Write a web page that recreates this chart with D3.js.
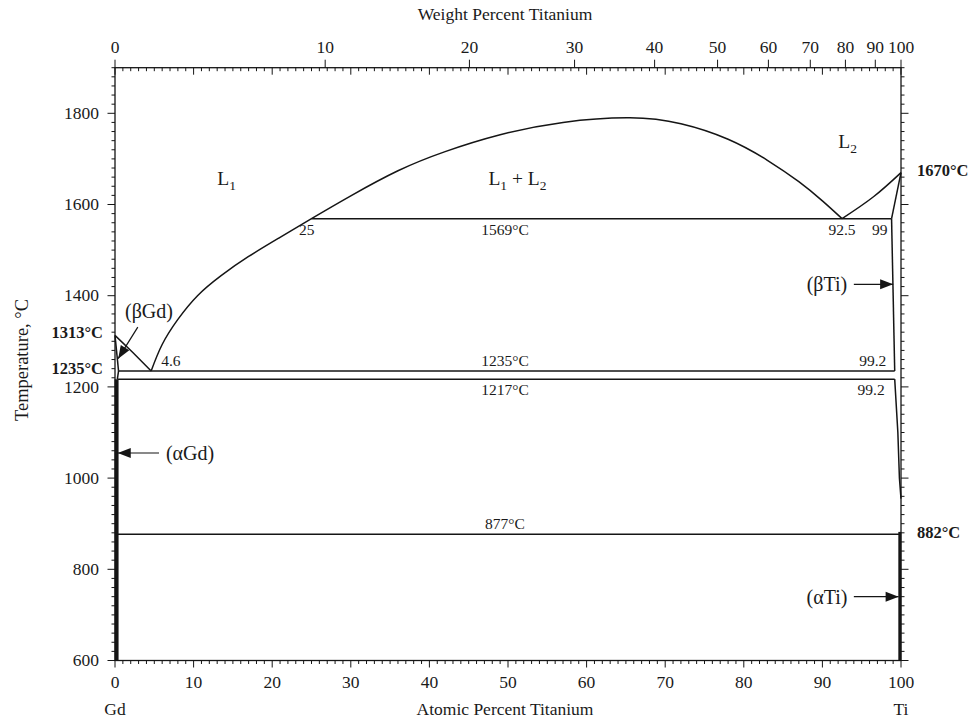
<!DOCTYPE html>
<html><head><meta charset="utf-8">
<script src="https://cdn.jsdelivr.net/npm/d3@7"></script>
<style>
body{margin:0;background:#fff}
text{font-family:"Liberation Serif","Times New Roman",serif;fill:#1a1a1a}
</style>
</head><body>
<svg id="c" width="974" height="721"></svg>
<script>
// ---------- data ----------
const atTicks = [0,10,20,30,40,50,60,70,80,90,100];
const wtTicks = [0,10,20,30,40,50,60,70,80,90,100];
const tempTicks = [600,800,1000,1200,1400,1600,1800];
const massTi = 47.867, massGd = 157.25;

// liquidus on Gd side
const liqGd = [[0,1313],[2.3,1275],[4.6,1235]];
// L1 liquidus from eutectic to monotectic
const liqL1 = [[4.6,1235],[6,1293],[8,1348],[10.5,1400],[13.5,1444],[17,1486],[21,1528],[25,1569]];
// miscibility gap dome
const dome = [[25,1569],[30,1619],[36,1674],[42,1716],[49,1753],[57,1780],[65.5,1790],[72,1777],[78,1743],[83,1697],[87,1650],[90,1608],[92.5,1569]];
// L2 liquidus
const liqL2 = [[92.5,1569],[96.5,1617],[100,1670]];
// (betaTi) solidus and solvus
const solTi = [[98.8,1569],[100,1670]];
const solvTiHigh = [[98.8,1569],[99.2,1235]];
const solvTiLow = [[99.2,1217],[99.6,1100],[99.8,1000],[100,955]];
// (betaGd)
const solGd = [[0,1313],[0.45,1235]];
const solvGd = [[0.45,1235],[0.3,1217]];
// invariant lines
const invariants = [
  {t:1569, x0:25,   x1:98.8, label:"1569°C", pos:"below"},
  {t:1235, x0:0.45, x1:99.2, label:"1235°C", pos:"above"},
  {t:1217, x0:0.3,  x1:99.2, label:"1217°C", pos:"below"},
  {t:877,  x0:0,    x1:100,  label:"877°C",  pos:"above"}
];
// composition labels
const compLabels = [
  {x:24.4, t:1569, s:"25", pos:"below"},
  {x:4.6,  t:1235, s:"4.6", pos:"aboveR"},
  {x:92.5, t:1569, s:"92.5", pos:"below"},
  {x:97.3, t:1569, s:"99", pos:"below"},
  {x:96.4, t:1235, s:"99.2", pos:"above"},
  {x:96.2, t:1217, s:"99.2", pos:"below"}
];

// ---------- layout ----------
const svg = d3.select("#c");
const x = d3.scaleLinear().domain([0,100]).range([115,901]);
const y = d3.scaleLinear().domain([600,1900]).range([660.5,67.7]);
const wtToAt = w => w===0?0:(w===100?100:100*(w/massTi)/((w/massTi)+((100-w)/massGd)));
const line = d3.line().x(d=>x(d[0])).y(d=>y(d[1]));
const smooth = d3.line().x(d=>x(d[0])).y(d=>y(d[1])).curve(d3.curveNatural);
const INK = "#151515";
const FS = 17.5;

const g = svg.append("g");

// frame
g.append("rect").attr("x",x(0)).attr("y",y(1900)).attr("width",x(100)-x(0)).attr("height",y(600)-y(1900))
 .attr("fill","none").attr("stroke",INK).attr("stroke-width",1.3);

// bottom axis (atomic %)
const minorAt = d3.range(0,101,1);
g.selectAll(".bt").data(minorAt).join("line")
 .attr("x1",d=>x(d)).attr("x2",d=>x(d)).attr("y1",y(600)).attr("y2",d=>y(600)+(d%10===0?7:3.5))
 .attr("stroke",INK).attr("stroke-width",1);
g.selectAll(".bl").data(atTicks).join("text")
 .attr("x",d=>x(d)).attr("y",688).attr("text-anchor","middle").attr("font-size",FS).text(d=>d);

// top axis: atomic % ticks inward, weight % ticks outward
g.selectAll(".tt").data(minorAt).join("line")
 .attr("x1",d=>x(d)).attr("x2",d=>x(d)).attr("y1",y(1900)).attr("y2",d=>y(1900)+(d%10===0?7:3.5))
 .attr("stroke",INK).attr("stroke-width",1);
g.selectAll(".tw").data(wtTicks).join("line")
 .attr("x1",d=>x(wtToAt(d))).attr("x2",d=>x(wtToAt(d))).attr("y1",y(1900)).attr("y2",y(1900)-8)
 .attr("stroke",INK).attr("stroke-width",1);
g.selectAll(".twl").data(wtTicks).join("text")
 .attr("x",d=>x(wtToAt(d))).attr("y",53).attr("text-anchor","middle").attr("font-size",FS).text(d=>d);

// left & right axes (temperature)
const minorT = d3.range(600,1901,20);
[["l",x(0),-1],["r",x(100),1]].forEach(([k,px,dir])=>{
  g.selectAll(".yt"+k).data(minorT).join("line")
   .attr("x1",px).attr("x2",d=>px+dir*(d%200===0?7.5:3.5)).attr("y1",d=>y(d)).attr("y2",d=>y(d))
   .attr("stroke",INK).attr("stroke-width",1);
});
g.selectAll(".yl").data(tempTicks).join("text")
 .attr("x",99).attr("y",d=>y(d)).attr("dy","0.33em").attr("text-anchor","end").attr("font-size",FS).text(d=>d);

// axis titles
g.append("text").attr("x",505).attr("y",20).attr("text-anchor","middle").attr("font-size",FS).text("Weight Percent Titanium");
g.append("text").attr("x",505).attr("y",715).attr("text-anchor","middle").attr("font-size",FS).text("Atomic Percent Titanium");
g.append("text").attr("x",x(0)).attr("y",715).attr("text-anchor","middle").attr("font-size",FS).text("Gd");
g.append("text").attr("x",x(100)).attr("y",715).attr("text-anchor","middle").attr("font-size",FS).text("Ti");
g.append("text").attr("transform","translate(28,360) rotate(-90)").attr("text-anchor","middle").attr("font-size",18.5).text("Temperature, °C");

// phase boundaries
const phase = g.append("g").attr("fill","none").attr("stroke",INK).attr("stroke-width",1.5);
[liqGd, solGd, solvGd, solTi, solvTiHigh, solvTiLow].forEach(p=>phase.append("path").attr("d",line(p)));
phase.append("path").attr("d",smooth(liqL1.concat(dome.slice(1))));
phase.append("path").attr("d",smooth(liqL2));

// invariant lines
g.selectAll(".inv").data(invariants).join("line")
 .attr("x1",d=>x(d.x0)).attr("x2",d=>x(d.x1)).attr("y1",d=>y(d.t)).attr("y2",d=>y(d.t))
 .attr("stroke",INK).attr("stroke-width",1.5);
g.selectAll(".invl").data(invariants).join("text")
 .attr("x",505).attr("y",d=>y(d.t)+(d.pos==="below"?16:-5)).attr("text-anchor","middle").attr("font-size",15.5).text(d=>d.label);

g.selectAll(".cl").data(compLabels).join("text")
 .attr("x",d=>d.pos==="aboveR"?x(d.x)+10:x(d.x))
 .attr("y",d=>y(d.t)+(d.pos==="below"?16:-5))
 .attr("text-anchor",d=>d.pos==="aboveR"?"start":"middle").attr("font-size",15.5).text(d=>d.s);

// single-phase solid solutions along the edges (thick)
g.append("path").attr("d",line([[0.2,600],[0.2,1217]])).attr("stroke",INK).attr("stroke-width",4).attr("fill","none");
g.append("path").attr("d",line([[99.85,600],[99.85,882]])).attr("stroke",INK).attr("stroke-width",3).attr("fill","none");

// bold temperature labels
const bold = [
  {s:"1313°C", px:103, t:1313, a:"end", dy:-3},
  {s:"1235°C", px:103, t:1235, a:"end", dy:-2.5},
  {s:"1670°C", px:917, t:1670, a:"start", dy:-2},
  {s:"882°C",  px:917, t:882,  a:"start", dy:0}
];
g.selectAll(".bd").data(bold).join("text")
 .attr("x",d=>d.px).attr("y",d=>y(d.t)+d.dy).attr("dy","0.35em").attr("text-anchor",d=>d.a)
 .attr("font-size",16.5).attr("font-weight","bold").text(d=>d.s);

// phase region labels with subscripts
function sub(parent, px, py, parts){
  const t = parent.append("text").attr("x",px).attr("y",py).attr("text-anchor","middle").attr("font-size",19.5);
  parts.forEach(p=>{
    if(p.sub) t.append("tspan").attr("font-size",13.5).attr("dy",5).text(p.sub);
    else t.append("tspan").attr("dy",p.back?-5:0).text(p.s);
  });
}
sub(g, x(14.2), y(1642), [{s:"L"},{sub:"1"}]);
sub(g, x(51.2), y(1642), [{s:"L"},{sub:"1"},{s:" + L",back:true},{sub:"2"}]);
sub(g, x(93.2), y(1725), [{s:"L"},{sub:"2"}]);

// arrows
function arrow(x1,y1,x2,y2){
  g.append("line").attr("x1",x1).attr("y1",y1).attr("x2",x2).attr("y2",y2).attr("stroke",INK).attr("stroke-width",1.2);
  const a = Math.atan2(y2-y1,x2-x1), L=13, W=5;
  const bx = x2-L*Math.cos(a), by = y2-L*Math.sin(a);
  const pts = [[x2,y2],[bx+W*Math.sin(a),by-W*Math.cos(a)],[bx-W*Math.sin(a),by+W*Math.cos(a)]];
  g.append("path").attr("d","M"+pts.map(p=>p.join(",")).join("L")+"Z").attr("fill",INK);
}
const ann = [
  {s:"(βGd)", tx:149, ty:1366, from:[2.9,1331], to:[0.4,1262]},
  {s:"(αGd)", tx:190, ty:1055, from:[5.6,1055], to:[0.35,1055]},
  {s:"(βTi)", tx:827, ty:1425, from:[94.0,1425], to:[99.0,1425]},
  {s:"(αTi)", tx:827, ty:740,  from:[94.0,740], to:[99.7,740]}
];
ann.forEach(d=>{
  g.append("text").attr("x",d.tx).attr("y",y(d.ty)).attr("dy","0.35em").attr("text-anchor","middle").attr("font-size",20).text(d.s);
  arrow(x(d.from[0]),y(d.from[1]),x(d.to[0]),y(d.to[1]));
});
</script>
</body></html>
